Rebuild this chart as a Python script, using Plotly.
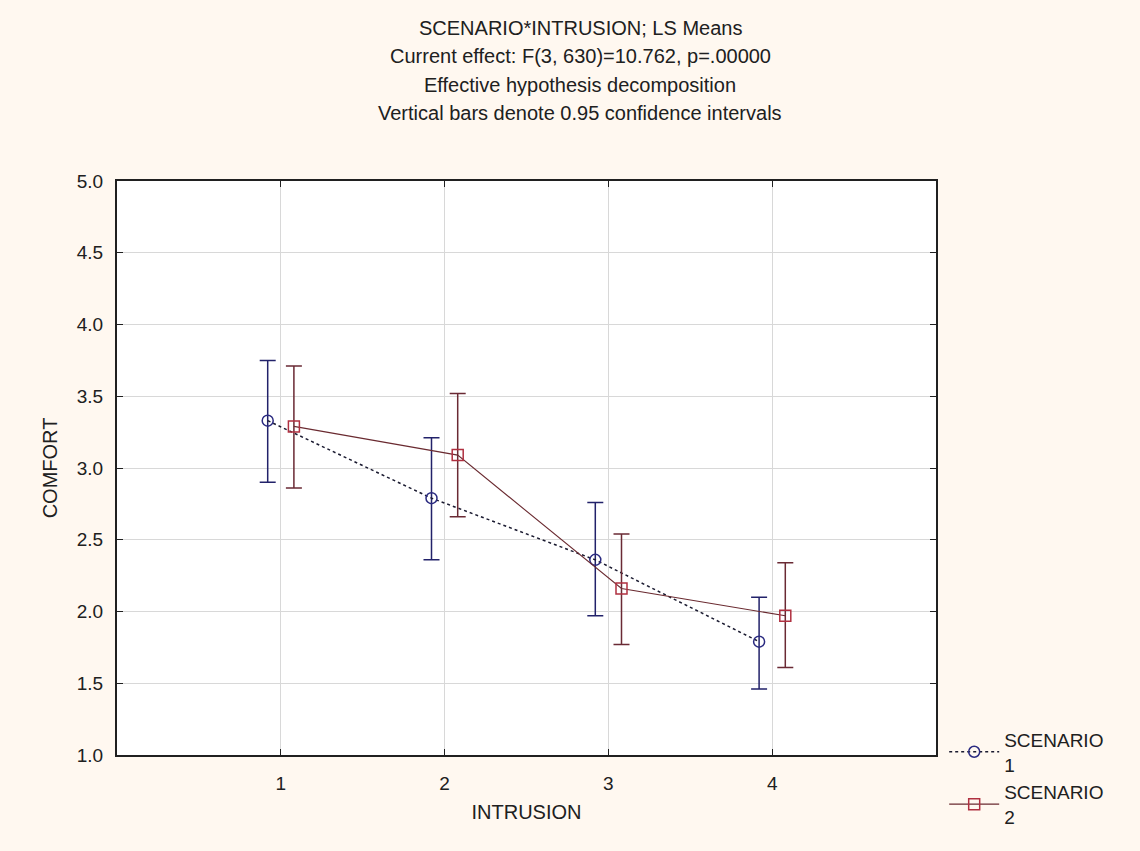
import plotly.graph_objects as go

intrusion = [1, 2, 3, 4]
offset = 0.08
s1_mean = [3.33, 2.79, 2.36, 1.79]
s1_upper = [3.75, 3.21, 2.76, 2.10]
s1_lower = [2.90, 2.36, 1.97, 1.46]
s2_mean = [3.29, 3.09, 2.16, 1.97]
s2_upper = [3.71, 3.52, 2.54, 2.34]
s2_lower = [2.86, 2.66, 1.77, 1.61]

y_ticks = [1.0, 1.5, 2.0, 2.5, 3.0, 3.5, 4.0, 4.5, 5.0]
x_ticks = [1, 2, 3, 4]

FONT = "Liberation Sans, Arial, sans-serif"
BG = "#fff8f0"

def err(mean, up, lo):
    return dict(type="data", symmetric=False,
                array=[u - m for u, m in zip(up, mean)],
                arrayminus=[m - l for m, l in zip(mean, lo)],
                width=8, thickness=1.5)

fig = go.Figure()
fig.add_trace(go.Scatter(
    x=[i - offset for i in intrusion], y=s1_mean, mode="lines+markers",
    name="SCENARIO<br>1",
    line=dict(color="#1a1a30", width=1.5, dash="dot"),
    marker=dict(symbol="circle-open", size=11, color="#2a2a80", line=dict(width=1.5)),
    error_y=dict(**err(s1_mean, s1_upper, s1_lower), color="#22226a"),
))
fig.add_trace(go.Scatter(
    x=[i + offset for i in intrusion], y=s2_mean, mode="lines+markers",
    name="SCENARIO<br>2",
    line=dict(color="#6a2a30", width=1.1),
    marker=dict(symbol="square-open", size=11, color="#b03040", line=dict(width=1.5)),
    error_y=dict(**err(s2_mean, s2_upper, s2_lower), color="#6a2a34"),
))

title_lines = ["SCENARIO*INTRUSION; LS Means",
               "Current effect: F(3, 630)=10.762, p=.00000",
               "Effective hypothesis decomposition",
               "Vertical bars denote 0.95 confidence intervals"]
for i, t in enumerate(title_lines):
    fig.add_annotation(text=t, xref="paper", yref="paper",
                       x=(580 - 117) / 819, y=1 + (181 - (28 + i * 28.3)) / 574,
                       xanchor="center", yanchor="middle", showarrow=False,
                       font=dict(family=FONT, size=20, color="#202020"))

fig.update_layout(
    width=1140, height=851,
    paper_bgcolor=BG, plot_bgcolor="white",
    margin=dict(l=117, r=204, t=181, b=96),
    font=dict(family=FONT, size=19, color="#202020"),
    showlegend=True,
    legend=dict(x=1.01, y=0.06, xanchor="left", yanchor="top",
                bgcolor="rgba(0,0,0,0)", font=dict(size=19),
                itemwidth=50, tracegroupgap=0),
    xaxis=dict(range=[0, 5], tickvals=x_ticks, ticktext=[str(v) for v in x_ticks],
               showgrid=True, gridcolor="#d8d8d8", gridwidth=1, zeroline=False,
               showline=True, linecolor="#202020", linewidth=2, mirror="ticks",
               ticks="inside", ticklen=6, tickcolor="#202020",
               title=dict(text="INTRUSION", standoff=12, font=dict(size=20)),
               ticklabelstandoff=10),
    yaxis=dict(range=[1, 5], tickvals=y_ticks, ticktext=[f"{v:.1f}" for v in y_ticks],
               showgrid=True, gridcolor="#d8d8d8", gridwidth=1, zeroline=False,
               showline=True, linecolor="#202020", linewidth=2, mirror="ticks",
               ticks="inside", ticklen=6, tickcolor="#202020",
               title=dict(text="COMFORT", standoff=14, font=dict(size=20)),
               ticklabelstandoff=8),
)

fig.write_html("out.html")
